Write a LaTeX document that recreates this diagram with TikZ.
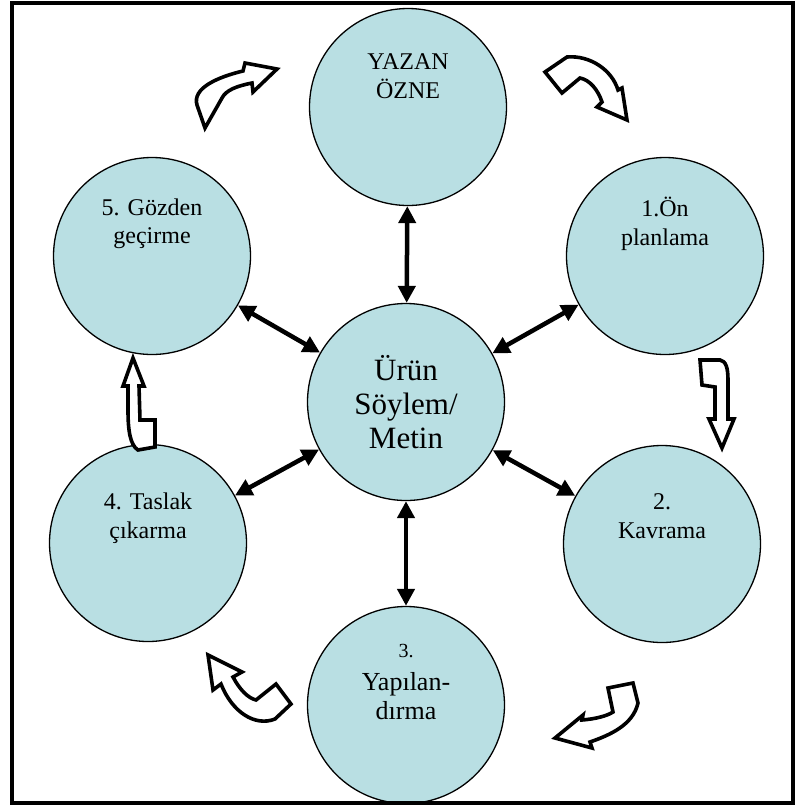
\documentclass[tikz,border=0pt]{standalone}
\usepackage{fontspec}
\setmainfont{Liberation Serif}
\usetikzlibrary{arrows.meta}
\usetikzlibrary{positioning}
\definecolor{disc}{RGB}{185,223,227}
\tikzset{>={Triangle[length=17pt,width=17pt]}}
\tikzset{
  stage/.style={circle,draw=black,line width=1.3pt,fill=disc,minimum size=197pt,inner sep=0pt},
  txt/.style={align=center,font=\fontsize{24}{28.5}\selectfont},
  bigtxt/.style={align=center,font=\fontsize{31}{34}\selectfont},
  link/.style={<->,line width=4.5pt},
  bent/.style={draw=black,fill=white,line width=3.6pt,line join=miter},
}

\begin{document}
\begin{tikzpicture}[x=1pt,y=-1pt]
  \useasboundingbox (0,0) rectangle (796,807);
  \node[stage] (cT) at (408,107) {};
  \node[stage] (cC) at (406,402) {};
  \node[stage] (c1) at (665,256) {};
  \node[stage] (c2) at (662,544) {};
  \node[stage] (c3) at (406,705) {};
  \node[stage] (c4) at (148,543) {};
  \node[stage] (c5) at (152,256) {};

  \node[txt] (tT) at ([yshift=31]cT.center) {YAZAN\\ÖZNE};
  \node[bigtxt] (tC) at (cC.center) {Ürün\\Söylem/\\Metin};
  \node[txt] (t1) at ([yshift=32]c1.center) {1.Ön\\planlama};
  \node[txt] (t2) at ([yshift=28]c2.center) {2.\\Kavrama};
  \node[txt,font=\fontsize{26}{29}\selectfont] (t3) at ([yshift=23]c3.center)
    {{\fontsize{20}{24}\selectfont 3.}\\[4pt]Yapılan-\\dırma};
  \node[txt] (t4) at ([yshift=25]c4.center) {4. Taslak\\çıkarma};
  \node[txt] (t5) at ([yshift=32]c5.center) {5. Gözden\\geçirme};

  \path[link]
    (cC) edge (cT)
    (cC) edge (c1)
    (cC) edge (c2)
    (cC) edge (c3)
    (cC) edge (c4)
    (cC) edge (c5);

  % cycle arrows
  \draw[bent] (205,128) -- (197,105) .. controls (192,88) and (218,77) .. (243,71)
    -- (245,63) -- (277,69) -- (253,92) -- (252,83)
    .. controls (237,86) and (226,90) .. (222,98) -- cycle;
  \draw[bent] (545,72) -- (567,57) .. controls (590,55) and (612,70) .. (618,90)
    -- (622,88) -- (627,120) -- (597,107) -- (602,102)
    .. controls (598,90) and (590,80) .. (580,78) -- (562,93) -- cycle;
  \draw[bent] (700,360) -- (702,385) -- (715,387) -- (715,419) -- (709,419)
    -- (722,448) -- (734,419) -- (728,419) -- (728,380)
    .. controls (728,368) and (726,361) .. (720,360) -- cycle;
  \draw[bent] (608,688) -- (633,683) -- (638,703) .. controls (633,725) and (610,735) .. (590,742)
    -- (592,748) -- (555,738) -- (583,715) -- (582,720)
    .. controls (595,719) and (607,716) .. (613,712) -- cycle;
  \draw[bent] (208,655) -- (242,672) -- (233,677) .. controls (240,690) and (248,698) .. (256,700)
    -- (276,684) -- (291,704) -- (275,719)
    .. controls (255,727) and (232,712) .. (221,684) -- (213,690) -- cycle;
  \draw[bent] (133,358) -- (144,386) -- (139,386) -- (140,420) -- (155,420) -- (155,447)
    -- (138,450) .. controls (130,445) and (128,430) .. (128,410) -- (128,386)
    -- (123,386) -- cycle;

  \draw[line width=3.5pt] (12,3) rectangle (793,803);
\end{tikzpicture}
\end{document}
